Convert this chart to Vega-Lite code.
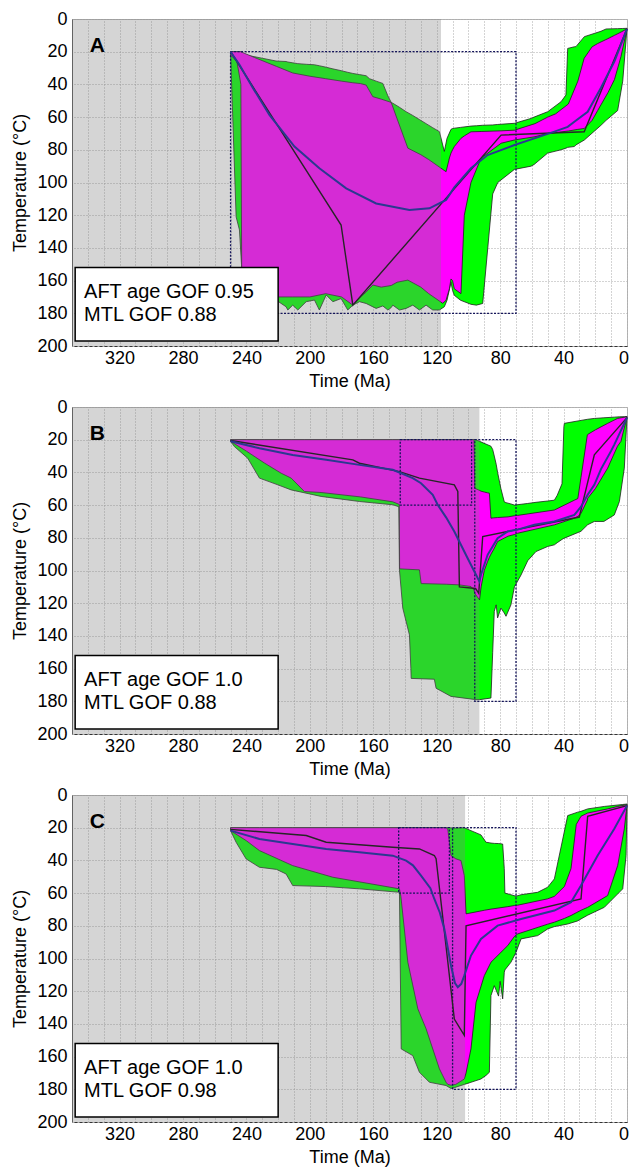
{
"$schema":"https://vega.github.io/schema/vega-lite/v6.json",
"padding":{"left":11,"top":9,"right":0,"bottom":0},
"spacing":6,
"config":{"font":"Liberation Sans","view":{"stroke":"#b5b5b5","strokeWidth":1},
"axis":{"labelFontSize":18,"titleFontSize":18,"titleFontWeight":"normal","labelColor":"#000","titleColor":"#000","labelFont":"Liberation Sans","titleFont":"Liberation Sans","gridColor":"#a8a8a8","gridDash":[1,2],"gridOpacity":1,"ticks":false}},
"datasets":{
"aG":[{"t":250,"T":20,"T2":21},{"t":246.5,"T":20,"T2":121},{"t":244.4,"T":20,"T2":129},{"t":243,"T":20.2,"T2":152},{"t":242.3,"T":21,"T2":169},{"t":240.5,"T":22,"T2":171},{"t":230,"T":24,"T2":172},{"t":221.3,"T":25.7,"T2":171.9},{"t":215,"T":26,"T2":176},{"t":213.9,"T":26.3,"T2":178},{"t":210.8,"T":26.8,"T2":175},{"t":207.6,"T":27.3,"T2":178},{"t":202.3,"T":27.7,"T2":172.9},{"t":197.1,"T":28,"T2":171.9},{"t":194,"T":28.6,"T2":178},{"t":189.7,"T":29.5,"T2":168.8},{"t":185.5,"T":30.5,"T2":172.9},{"t":180.3,"T":31.6,"T2":171},{"t":176.1,"T":32.6,"T2":178},{"t":172.9,"T":33.3,"T2":175},{"t":168.7,"T":34,"T2":172.9},{"t":164.5,"T":34.7,"T2":174},{"t":162.4,"T":36.5,"T2":175},{"t":158.2,"T":38,"T2":177},{"t":154,"T":39.4,"T2":175.5},{"t":150.8,"T":47,"T2":178},{"t":148.7,"T":51,"T2":176.5},{"t":147.7,"T":51.5,"T2":175},{"t":143.5,"T":54,"T2":178},{"t":139.3,"T":56.7,"T2":177},{"t":135.1,"T":59,"T2":175},{"t":130.9,"T":61.5,"T2":178},{"t":126.7,"T":64,"T2":175},{"t":122.5,"T":66.5,"T2":178},{"t":118.3,"T":68.9,"T2":178},{"t":115.2,"T":81,"T2":176},{"t":113.5,"T":73,"T2":172},{"t":111,"T":67.5,"T2":161},{"t":110,"T":67,"T2":166},{"t":108.9,"T":66.8,"T2":169},{"t":105,"T":66.3,"T2":172},{"t":98.4,"T":65.5,"T2":174.5},{"t":95,"T":65.3,"T2":175},{"t":91,"T":65,"T2":174},{"t":84.7,"T":64.8,"T2":107},{"t":81.5,"T":64.5,"T2":100},{"t":71,"T":63.8,"T2":92},{"t":60.5,"T":60.8,"T2":90},{"t":58.6,"T":60,"T2":89},{"t":50,"T":56.7,"T2":82},{"t":41.6,"T":50.6,"T2":80},{"t":38.5,"T":46.5,"T2":79},{"t":37.4,"T":18,"T2":78.5},{"t":33.2,"T":17,"T2":78},{"t":32.2,"T":16.9,"T2":77},{"t":26.9,"T":10.8,"T2":74},{"t":16.4,"T":7.5,"T2":65},{"t":13.2,"T":6.1,"T2":62},{"t":5.9,"T":5.9,"T2":56},{"t":2.7,"T":5.8,"T2":38},{"t":0,"T":5.7,"T2":5.7}],
"aM":[{"t":250,"T":20,"T2":22},{"t":246,"T":20,"T2":26},{"t":243.5,"T":20,"T2":40},{"t":243,"T":20.3,"T2":150},{"t":242.4,"T":20.5,"T2":166},{"t":235,"T":23.5,"T2":169},{"t":221,"T":29,"T2":170},{"t":210.8,"T":33,"T2":170},{"t":200,"T":35,"T2":170},{"t":190,"T":36.5,"T2":168},{"t":180,"T":38,"T2":170},{"t":172.9,"T":39,"T2":175},{"t":168,"T":39.5,"T2":170},{"t":164.5,"T":40.4,"T2":167},{"t":160.3,"T":47.5,"T2":162.7},{"t":155,"T":49,"T2":164},{"t":148.7,"T":51,"T2":163},{"t":145,"T":61,"T2":161},{"t":138.2,"T":79,"T2":159.7},{"t":130,"T":83,"T2":164},{"t":125,"T":86,"T2":168},{"t":116.2,"T":92,"T2":173.9},{"t":114.1,"T":93.4,"T2":172},{"t":112,"T":85,"T2":165},{"t":111,"T":82,"T2":159},{"t":110,"T":80,"T2":160},{"t":108.9,"T":78,"T2":165},{"t":104.7,"T":73,"T2":168},{"t":102.6,"T":71.5,"T2":120},{"t":98.4,"T":69,"T2":100},{"t":92,"T":68.8,"T2":85},{"t":79.4,"T":68.4,"T2":76},{"t":71,"T":68,"T2":74},{"t":58,"T":64,"T2":72},{"t":50,"T":60,"T2":70},{"t":45,"T":58,"T2":69.5},{"t":37,"T":52,"T2":68.5},{"t":31,"T":38,"T2":67.5},{"t":27,"T":24,"T2":67},{"t":22,"T":17,"T2":62},{"t":18.5,"T":15,"T2":56},{"t":12,"T":12,"T2":45},{"t":7.9,"T":10,"T2":37},{"t":3.8,"T":8,"T2":23},{"t":0,"T":6,"T2":6}],
"aB":[{"t":250,"T":20},{"t":244.4,"T":28},{"t":236,"T":42},{"t":225.5,"T":58.7},{"t":209.7,"T":78},{"t":194,"T":91.3},{"t":177.1,"T":103.6},{"t":158.2,"T":112.8},{"t":137.2,"T":116.8},{"t":124.6,"T":115.8},{"t":114.1,"T":110.7},{"t":108.9,"T":103},{"t":98.4,"T":91.3},{"t":87.9,"T":83.2},{"t":71,"T":77.1},{"t":58.4,"T":73},{"t":45.8,"T":68.9},{"t":37.4,"T":66},{"t":33.2,"T":62.8},{"t":24.8,"T":56.7},{"t":16.4,"T":42},{"t":8,"T":26},{"t":0,"T":6}],
"aK":[{"t":250,"T":20},{"t":180.3,"T":126},{"t":172.9,"T":175},{"t":79.4,"T":71},{"t":27,"T":69},{"t":0,"T":6}],
"aBox":[{"t":250,"t2":70,"T":20,"T2":180}],
"aShade":[{"t":350,"t2":117.3,"T":0,"T2":200}],
"aNote":[{"t":348,"t2":220,"T":152,"T2":197}],
"aTxt":[{"t":342.4,"T":167,"txt":"AFT age GOF 0.95"},{"t":342.4,"T":181.3,"txt":"MTL GOF 0.88"}],
"aLet":[{"t":334,"T":16.3,"txt":"A"}],
"bG":[{"t":250,"T":20,"T2":21},{"t":247.6,"T":20,"T2":24.2},{"t":239.2,"T":20,"T2":31.3},{"t":231.8,"T":20,"T2":43.5},{"t":220.2,"T":20,"T2":47.6},{"t":211.8,"T":20,"T2":50.7},{"t":192.9,"T":20,"T2":54.7},{"t":168.7,"T":20,"T2":57.8},{"t":147.7,"T":20,"T2":59.8},{"t":143.9,"T":20,"T2":61},{"t":143.5,"T":20,"T2":99.6},{"t":141.4,"T":20,"T2":123},{"t":137.2,"T":20,"T2":139.4},{"t":136.3,"T":20,"T2":160},{"t":136.1,"T":20,"T2":166},{"t":121.5,"T":20,"T2":166.5},{"t":120.4,"T":20,"T2":172},{"t":111,"T":20,"T2":177},{"t":95.2,"T":20,"T2":179},{"t":93,"T":21,"T2":179},{"t":85.8,"T":24,"T2":178},{"t":84.7,"T":26,"T2":150},{"t":83.7,"T":30,"T2":125},{"t":82.5,"T":35,"T2":121},{"t":81.6,"T":40,"T2":129},{"t":79.5,"T":50,"T2":123},{"t":77.4,"T":58,"T2":126},{"t":76.3,"T":58.5,"T2":128},{"t":73.2,"T":59.3,"T2":121},{"t":71,"T":60,"T2":110},{"t":66.8,"T":59.5,"T2":102.7},{"t":62.6,"T":59,"T2":94},{"t":57.4,"T":58.3,"T2":88.4},{"t":50,"T":57.5,"T2":85.3},{"t":45.8,"T":57,"T2":84.3},{"t":44,"T":54,"T2":83},{"t":41,"T":47,"T2":81},{"t":39.8,"T":12,"T2":80.3},{"t":39.5,"T":10,"T2":80.2},{"t":29,"T":8.2,"T2":76},{"t":24.8,"T":7.5,"T2":72},{"t":20.6,"T":7,"T2":70},{"t":14.6,"T":6.6,"T2":70},{"t":8,"T":6.2,"T2":66},{"t":4.8,"T":6,"T2":57.8},{"t":1.7,"T":5.9,"T2":37.4},{"t":0,"T":5.8,"T2":5.8}],
"bM":[{"t":250,"T":20,"T2":21},{"t":240,"T":20,"T2":27},{"t":228.6,"T":20,"T2":34.3},{"t":218.1,"T":20,"T2":40.5},{"t":211.8,"T":20,"T2":43.5},{"t":203.4,"T":20,"T2":51.7},{"t":192.9,"T":20,"T2":52.3},{"t":168,"T":20,"T2":55},{"t":147.7,"T":20,"T2":58},{"t":143.6,"T":20,"T2":59.6},{"t":143.4,"T":20,"T2":99},{"t":130.9,"T":20,"T2":99.6},{"t":129.8,"T":20,"T2":108},{"t":114,"T":20,"T2":108.4},{"t":105.7,"T":20,"T2":108.8},{"t":98.4,"T":20,"T2":109.8},{"t":96.5,"T":20,"T2":112},{"t":96,"T":49.7,"T2":114},{"t":93,"T":51,"T2":118},{"t":92,"T":51.5,"T2":110},{"t":90,"T":52,"T2":100},{"t":87.9,"T":52.5,"T2":94.5},{"t":86.8,"T":52.7,"T2":92},{"t":85.8,"T":68,"T2":90},{"t":84,"T":67.8,"T2":87},{"t":81.6,"T":67.6,"T2":82.3},{"t":75,"T":67.2,"T2":79},{"t":71,"T":66.5,"T2":78},{"t":69,"T":66.3,"T2":77.2},{"t":45.8,"T":63,"T2":72.1},{"t":33.2,"T":57,"T2":68},{"t":31,"T":56,"T2":67},{"t":29,"T":43,"T2":65},{"t":25,"T":17,"T2":57},{"t":24.8,"T":16.8,"T2":55.8},{"t":20,"T":14,"T2":50},{"t":12.2,"T":10,"T2":37.4},{"t":6,"T":7,"T2":24},{"t":3.8,"T":6.6,"T2":21},{"t":0,"T":6,"T2":6}],
"bB":[{"t":250,"T":21},{"t":231.8,"T":25.2},{"t":210.8,"T":29.3},{"t":189.7,"T":32.3},{"t":168.7,"T":35.4},{"t":147.7,"T":38.4},{"t":135.1,"T":43.5},{"t":129.9,"T":46.6},{"t":122.5,"T":53.7},{"t":119.4,"T":59.8},{"t":114.1,"T":67.5},{"t":108.9,"T":76.2},{"t":100.5,"T":92.5},{"t":93.1,"T":106.7},{"t":92.1,"T":102.7},{"t":87.9,"T":90.4},{"t":81.6,"T":80.2},{"t":75.2,"T":76.1},{"t":69,"T":75},{"t":58.4,"T":72},{"t":45.8,"T":70},{"t":39.5,"T":68},{"t":33.2,"T":66},{"t":29,"T":61},{"t":24.8,"T":53.7},{"t":20.6,"T":47.6},{"t":16.4,"T":38},{"t":10.1,"T":27},{"t":8,"T":23},{"t":0,"T":6.5}],
"bK":[{"t":250,"T":20.5},{"t":172.9,"T":32.3},{"t":168.7,"T":34.4},{"t":143.5,"T":39.5},{"t":130.9,"T":43.5},{"t":108.9,"T":47.6},{"t":106.7,"T":51.7},{"t":105.7,"T":110},{"t":95.5,"T":111},{"t":93.5,"T":114},{"t":91,"T":79.2},{"t":30.1,"T":67.3},{"t":20.6,"T":29.2},{"t":0,"T":6.5}],
"bBox":[{"t":96,"t2":70,"T":20,"T2":180},{"t":143,"t2":98,"T":20,"T2":60}],
"bShade":[{"t":350,"t2":93.1,"T":0,"T2":200}],
"bTxt":[{"t":342.4,"T":167,"txt":"AFT age GOF 1.0"},{"t":342.4,"T":181.3,"txt":"MTL GOF 0.88"}],
"bLet":[{"t":334,"T":16.3,"txt":"B"}],
"cG":[{"t":250,"T":20,"T2":21.8},{"t":246.5,"T":20,"T2":28.9},{"t":240.2,"T":20,"T2":39.1},{"t":231.8,"T":20,"T2":44.2},{"t":221,"T":20,"T2":45.5},{"t":215,"T":20,"T2":48.3},{"t":210.8,"T":20,"T2":55.4},{"t":190,"T":20,"T2":56},{"t":168.7,"T":20,"T2":57.4},{"t":143.5,"T":20,"T2":59.5},{"t":142.4,"T":20,"T2":155.3},{"t":135.1,"T":20,"T2":159.4},{"t":130.9,"T":20,"T2":169.6},{"t":124.6,"T":20,"T2":175.7},{"t":114.1,"T":20,"T2":177.7},{"t":111,"T":20.1,"T2":179.5},{"t":108.9,"T":20.2,"T2":179},{"t":102.6,"T":20,"T2":177},{"t":98.4,"T":21.8,"T2":175.7},{"t":92.1,"T":24.4,"T2":173.7},{"t":88.9,"T":28.9,"T2":171.5},{"t":86.8,"T":29.2,"T2":169.6},{"t":85.8,"T":29.4,"T2":122.7},{"t":83.7,"T":29.6,"T2":116.6},{"t":81,"T":29.7,"T2":123},{"t":80,"T":29.8,"T2":114},{"t":78.4,"T":30,"T2":124.7},{"t":77.4,"T":45,"T2":108.4},{"t":77,"T":60,"T2":107},{"t":73.2,"T":61,"T2":102.3},{"t":70,"T":61.9,"T2":96.2},{"t":66.8,"T":61,"T2":88},{"t":56.3,"T":59.5,"T2":86},{"t":50,"T":56.4,"T2":81.9},{"t":45.8,"T":51.3,"T2":80.5},{"t":37.4,"T":12.6,"T2":78.9},{"t":31.1,"T":10.5,"T2":77},{"t":29,"T":10,"T2":75.8},{"t":24.8,"T":8.5,"T2":73.5},{"t":14.3,"T":7,"T2":68.7},{"t":2.7,"T":5.8,"T2":57.4},{"t":0.6,"T":5.6,"T2":37},{"t":0,"T":5.5,"T2":5.5}],
"cM":[{"t":250,"T":20,"T2":21.8},{"t":240,"T":20,"T2":28},{"t":231.8,"T":20,"T2":34},{"t":210.8,"T":20,"T2":43.2},{"t":185.5,"T":20,"T2":50.3},{"t":143.5,"T":20,"T2":57.4},{"t":142.6,"T":20,"T2":62},{"t":138.2,"T":20,"T2":102.3},{"t":131.9,"T":20,"T2":130.8},{"t":126.7,"T":20,"T2":143},{"t":118.3,"T":20,"T2":167.5},{"t":114.1,"T":20,"T2":175.7},{"t":113,"T":21,"T2":177},{"t":111,"T":37,"T2":177.5},{"t":108,"T":39,"T2":177},{"t":104.7,"T":40.1,"T2":175},{"t":102.6,"T":49.3,"T2":173.7},{"t":101.5,"T":72.7,"T2":170},{"t":98.4,"T":72.1,"T2":155.3},{"t":95.2,"T":71.5,"T2":126.8},{"t":90,"T":70.5,"T2":110.5},{"t":85.8,"T":69.8,"T2":102.3},{"t":75.2,"T":68.3,"T2":92.1},{"t":71,"T":67.6,"T2":86.5},{"t":69,"T":67.4,"T2":85},{"t":50,"T":63.5,"T2":79},{"t":45.8,"T":62,"T2":77.8},{"t":39.5,"T":56,"T2":75.5},{"t":35.3,"T":45,"T2":73.7},{"t":32,"T":18,"T2":72},{"t":29,"T":13,"T2":70.5},{"t":24.8,"T":11,"T2":68.7},{"t":12.2,"T":8.5,"T2":61.5},{"t":5.9,"T":7,"T2":43.2},{"t":1.7,"T":6.2,"T2":20.7},{"t":0,"T":6,"T2":6}],
"cB":[{"t":250,"T":21.8},{"t":231.8,"T":26.9},{"t":210.8,"T":30},{"t":189.7,"T":33},{"t":168.7,"T":35},{"t":147.7,"T":37.1},{"t":139.3,"T":40.1},{"t":135,"T":43},{"t":129.9,"T":49.3},{"t":124,"T":57},{"t":121.5,"T":63.6},{"t":118,"T":72},{"t":115.2,"T":81.9},{"t":111,"T":104.3},{"t":108.5,"T":115},{"t":106.7,"T":117.5},{"t":104.5,"T":115.5},{"t":102.6,"T":110.5},{"t":98.4,"T":98.2},{"t":92.1,"T":88},{"t":81.6,"T":79.9},{"t":66.8,"T":75.8},{"t":45.8,"T":70.7},{"t":35.3,"T":65.6},{"t":29,"T":55.4},{"t":18.5,"T":37},{"t":8,"T":20.7},{"t":0,"T":6.5}],
"cK":[{"t":250,"T":21},{"t":202.3,"T":24.8},{"t":189.7,"T":28.9},{"t":147.7,"T":32},{"t":130.9,"T":33},{"t":121.5,"T":37},{"t":120.4,"T":39},{"t":108.9,"T":137},{"t":102.6,"T":147},{"t":101.5,"T":80},{"t":29,"T":63.5},{"t":24.8,"T":13},{"t":0,"T":6.5}],
"cBox":[{"t":110,"t2":70,"T":20,"T2":180},{"t":144,"t2":112,"T":20,"T2":60}],
"cShade":[{"t":350,"t2":102.1,"T":0,"T2":200}],
"cTxt":[{"t":342.4,"T":167,"txt":"AFT age GOF 1.0"},{"t":342.4,"T":181.3,"txt":"MTL GOF 0.98"}],
"cLet":[{"t":334,"T":16.3,"txt":"C"}]
},
"vconcat":[
{"width":555,"height":327,
"encoding":{"x":{"field":"t","type":"quantitative","title":"Time (Ma)","scale":{"domain":[0,350],"reverse":true,"nice":false,"zero":false},"axis":{"values":[0,10,20,30,40,50,60,70,80,90,100,110,120,130,140,150,160,170,180,190,200,210,220,230,240,250,260,270,280,290,300,310,320,330,340],"labelExpr":"datum.value % 40 === 0 ? datum.label : ''","labelFlush":true,"labelFlushOffset":1.5,"labelOverlap":false,"labelPadding":3,"titlePadding":5,"domainColor":"#333333","domainDash":[3,2],"grid":true}},
"y":{"field":"T","type":"quantitative","title":"Temperature (°C)","scale":{"domain":[0,200],"reverse":true,"nice":false,"zero":false},"axis":{"values":[0,20,40,60,80,100,120,140,160,180,200],"labelFlush":false,"labelOverlap":false,"labelPadding":5,"titlePadding":7,"domainColor":"#555555","grid":true}}},
"layer":[
{"data":{"name":"aG"},"mark":{"type":"area","fill":"#00ff00","fillOpacity":1,"stroke":"#1e1e1e","strokeWidth":0.8},"encoding":{"y2":{"field":"T2"}}},
{"data":{"name":"aM"},"mark":{"type":"area","fill":"#ff00ff","fillOpacity":1,"stroke":"#1e1e1e","strokeWidth":0.8},"encoding":{"y2":{"field":"T2"}}},
{"data":{"name":"aShade"},"mark":{"type":"rect","fill":"#808080","fillOpacity":0.333,"strokeWidth":0},"encoding":{"x2":{"field":"t2"},"y2":{"field":"T2"}}},
{"data":{"name":"aBox"},"mark":{"type":"rect","filled":false,"stroke":"#14145a","strokeWidth":1.3,"strokeDash":[2,1.5]},"encoding":{"x2":{"field":"t2"},"y2":{"field":"T2"}}},
{"data":{"name":"aK"},"mark":{"type":"line","stroke":"#262626","strokeWidth":1.4},"encoding":{}},
{"data":{"name":"aB"},"mark":{"type":"line","stroke":"#2b3990","strokeWidth":2},"encoding":{}},
{"data":{"name":"aNote"},"mark":{"type":"rect","fill":"#ffffff","fillOpacity":1,"stroke":"#000000","strokeWidth":1.5},"encoding":{"x2":{"field":"t2"},"y2":{"field":"T2"}}},
{"data":{"name":"aTxt"},"mark":{"type":"text","align":"left","baseline":"middle","fontSize":20,"color":"#000"},"encoding":{"text":{"field":"txt"}}},
{"data":{"name":"aLet"},"mark":{"type":"text","align":"center","baseline":"middle","fontSize":21,"fontWeight":"bold","color":"#000"},"encoding":{"text":{"field":"txt"}}}
]},
{"width":555,"height":327,
"encoding":{"x":{"field":"t","type":"quantitative","title":"Time (Ma)","scale":{"domain":[0,350],"reverse":true,"nice":false,"zero":false},"axis":{"values":[0,10,20,30,40,50,60,70,80,90,100,110,120,130,140,150,160,170,180,190,200,210,220,230,240,250,260,270,280,290,300,310,320,330,340],"labelExpr":"datum.value % 40 === 0 ? datum.label : ''","labelFlush":true,"labelFlushOffset":1.5,"labelOverlap":false,"labelPadding":3,"titlePadding":5,"domainColor":"#333333","domainDash":[3,2],"grid":true}},
"y":{"field":"T","type":"quantitative","title":"Temperature (°C)","scale":{"domain":[0,200],"reverse":true,"nice":false,"zero":false},"axis":{"values":[0,20,40,60,80,100,120,140,160,180,200],"labelFlush":false,"labelOverlap":false,"labelPadding":5,"titlePadding":7,"domainColor":"#555555","grid":true}}},
"layer":[
{"data":{"name":"bG"},"mark":{"type":"area","fill":"#00ff00","fillOpacity":1,"stroke":"#1e1e1e","strokeWidth":0.8},"encoding":{"y2":{"field":"T2"}}},
{"data":{"name":"bM"},"mark":{"type":"area","fill":"#ff00ff","fillOpacity":1,"stroke":"#1e1e1e","strokeWidth":0.8},"encoding":{"y2":{"field":"T2"}}},
{"data":{"name":"bShade"},"mark":{"type":"rect","fill":"#808080","fillOpacity":0.333,"strokeWidth":0},"encoding":{"x2":{"field":"t2"},"y2":{"field":"T2"}}},
{"data":{"name":"bBox"},"mark":{"type":"rect","filled":false,"stroke":"#14145a","strokeWidth":1.3,"strokeDash":[2,1.5]},"encoding":{"x2":{"field":"t2"},"y2":{"field":"T2"}}},
{"data":{"name":"bK"},"mark":{"type":"line","stroke":"#262626","strokeWidth":1.4},"encoding":{}},
{"data":{"name":"bB"},"mark":{"type":"line","stroke":"#2b3990","strokeWidth":2},"encoding":{}},
{"data":{"name":"aNote"},"mark":{"type":"rect","fill":"#ffffff","fillOpacity":1,"stroke":"#000000","strokeWidth":1.5},"encoding":{"x2":{"field":"t2"},"y2":{"field":"T2"}}},
{"data":{"name":"bTxt"},"mark":{"type":"text","align":"left","baseline":"middle","fontSize":20,"color":"#000"},"encoding":{"text":{"field":"txt"}}},
{"data":{"name":"bLet"},"mark":{"type":"text","align":"center","baseline":"middle","fontSize":21,"fontWeight":"bold","color":"#000"},"encoding":{"text":{"field":"txt"}}}
]},
{"width":555,"height":327,
"encoding":{"x":{"field":"t","type":"quantitative","title":"Time (Ma)","scale":{"domain":[0,350],"reverse":true,"nice":false,"zero":false},"axis":{"values":[0,10,20,30,40,50,60,70,80,90,100,110,120,130,140,150,160,170,180,190,200,210,220,230,240,250,260,270,280,290,300,310,320,330,340],"labelExpr":"datum.value % 40 === 0 ? datum.label : ''","labelFlush":true,"labelFlushOffset":1.5,"labelOverlap":false,"labelPadding":3,"titlePadding":5,"domainColor":"#333333","domainDash":[3,2],"grid":true}},
"y":{"field":"T","type":"quantitative","title":"Temperature (°C)","scale":{"domain":[0,200],"reverse":true,"nice":false,"zero":false},"axis":{"values":[0,20,40,60,80,100,120,140,160,180,200],"labelFlush":false,"labelOverlap":false,"labelPadding":5,"titlePadding":7,"domainColor":"#555555","grid":true}}},
"layer":[
{"data":{"name":"cG"},"mark":{"type":"area","fill":"#00ff00","fillOpacity":1,"stroke":"#1e1e1e","strokeWidth":0.8},"encoding":{"y2":{"field":"T2"}}},
{"data":{"name":"cM"},"mark":{"type":"area","fill":"#ff00ff","fillOpacity":1,"stroke":"#1e1e1e","strokeWidth":0.8},"encoding":{"y2":{"field":"T2"}}},
{"data":{"name":"cShade"},"mark":{"type":"rect","fill":"#808080","fillOpacity":0.333,"strokeWidth":0},"encoding":{"x2":{"field":"t2"},"y2":{"field":"T2"}}},
{"data":{"name":"cBox"},"mark":{"type":"rect","filled":false,"stroke":"#14145a","strokeWidth":1.3,"strokeDash":[2,1.5]},"encoding":{"x2":{"field":"t2"},"y2":{"field":"T2"}}},
{"data":{"name":"cK"},"mark":{"type":"line","stroke":"#262626","strokeWidth":1.4},"encoding":{}},
{"data":{"name":"cB"},"mark":{"type":"line","stroke":"#2b3990","strokeWidth":2},"encoding":{}},
{"data":{"name":"aNote"},"mark":{"type":"rect","fill":"#ffffff","fillOpacity":1,"stroke":"#000000","strokeWidth":1.5},"encoding":{"x2":{"field":"t2"},"y2":{"field":"T2"}}},
{"data":{"name":"cTxt"},"mark":{"type":"text","align":"left","baseline":"middle","fontSize":20,"color":"#000"},"encoding":{"text":{"field":"txt"}}},
{"data":{"name":"cLet"},"mark":{"type":"text","align":"center","baseline":"middle","fontSize":21,"fontWeight":"bold","color":"#000"},"encoding":{"text":{"field":"txt"}}}
]}
]
}
